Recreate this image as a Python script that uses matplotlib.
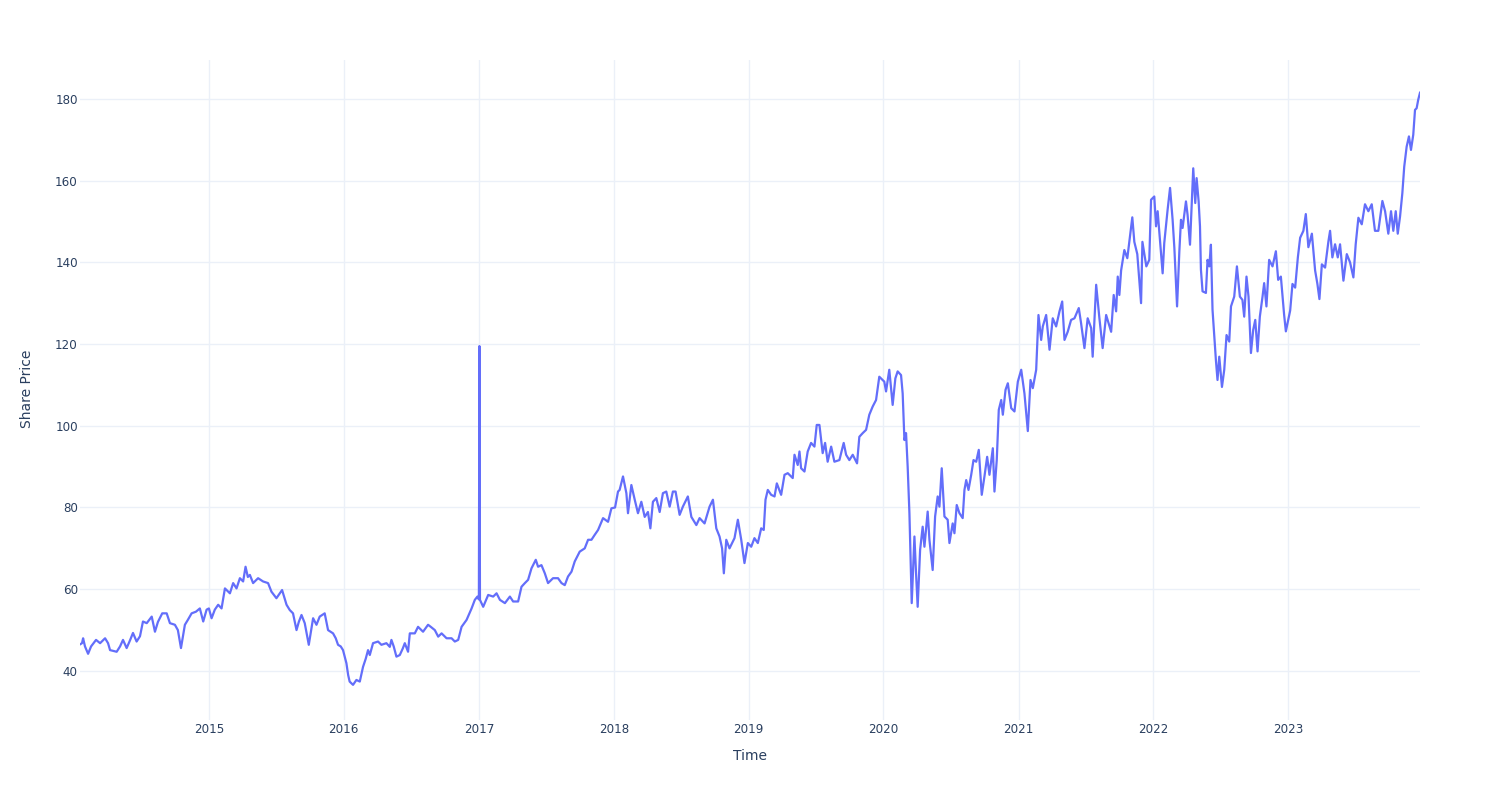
import datetime as dt
import matplotlib
matplotlib.use("Agg")
import matplotlib.pyplot as plt
import matplotlib.dates as mdates

# time as decimal years, price
years = [
    2014.044, 2014.059, 2014.067, 2014.081, 2014.104, 2014.126, 2014.163, 2014.193, 2014.230, 2014.252,
    2014.267, 2014.316, 2014.341, 2014.363, 2014.390, 2014.415, 2014.437, 2014.464, 2014.489, 2014.511,
    2014.539, 2014.576, 2014.600, 2014.622, 2014.654, 2014.687, 2014.711, 2014.748, 2014.770, 2014.793,
    2014.822, 2014.844, 2014.872, 2014.904, 2014.933, 2014.958, 2014.983, 2015.000,
    2015.020, 2015.044, 2015.069, 2015.094, 2015.119, 2015.156, 2015.180, 2015.205, 2015.230, 2015.254,
    2015.272, 2015.289, 2015.304, 2015.328, 2015.365, 2015.402, 2015.439, 2015.464, 2015.501, 2015.526,
    2015.543, 2015.576, 2015.600, 2015.624, 2015.650, 2015.667, 2015.687, 2015.711, 2015.741, 2015.773,
    2015.798, 2015.822, 2015.859, 2015.884, 2015.921, 2015.941, 2015.958, 2015.978, 2015.995,
    2016.020, 2016.033, 2016.044, 2016.069, 2016.094, 2016.119, 2016.143, 2016.163, 2016.180, 2016.193,
    2016.217, 2016.254, 2016.279, 2016.316, 2016.341, 2016.353, 2016.370, 2016.390, 2016.415, 2016.437,
    2016.452, 2016.476, 2016.489, 2016.526, 2016.550, 2016.587, 2016.624, 2016.644, 2016.674, 2016.699,
    2016.724, 2016.761, 2016.798, 2016.822, 2016.847, 2016.872, 2016.909, 2016.946, 2016.970, 2016.989,
    2017.000, 2017.004, 2017.008,
    2017.032, 2017.069, 2017.106, 2017.131, 2017.156, 2017.193, 2017.230, 2017.254, 2017.291, 2017.316,
    2017.341, 2017.365, 2017.390, 2017.422, 2017.439, 2017.464, 2017.489, 2017.513, 2017.550, 2017.587,
    2017.613, 2017.637, 2017.661, 2017.687, 2017.711, 2017.748, 2017.785, 2017.810, 2017.835, 2017.859,
    2017.884, 2017.921, 2017.958, 2017.983,
    2018.010, 2018.032, 2018.044, 2018.069, 2018.094, 2018.106, 2018.131, 2018.156, 2018.180, 2018.205,
    2018.230, 2018.254, 2018.272, 2018.291, 2018.316, 2018.341, 2018.365, 2018.390, 2018.415, 2018.439,
    2018.459, 2018.489, 2018.513, 2018.550, 2018.576, 2018.613, 2018.637, 2018.674, 2018.711, 2018.736,
    2018.761, 2018.785, 2018.804, 2018.817, 2018.835, 2018.859, 2018.896, 2018.921, 2018.946, 2018.970,
    2018.995,
    2019.020, 2019.044, 2019.069, 2019.094, 2019.113, 2019.126, 2019.143, 2019.168, 2019.193, 2019.210,
    2019.242, 2019.267, 2019.291, 2019.328, 2019.341, 2019.365, 2019.378, 2019.390, 2019.415, 2019.439,
    2019.464, 2019.489, 2019.506, 2019.526, 2019.550, 2019.568, 2019.587, 2019.613, 2019.637, 2019.674,
    2019.706, 2019.724, 2019.748, 2019.773, 2019.805, 2019.822, 2019.847, 2019.872, 2019.896, 2019.921,
    2019.946, 2019.970,
    2020.007, 2020.020, 2020.044, 2020.069, 2020.089, 2020.106, 2020.131, 2020.143, 2020.156, 2020.168,
    2020.180, 2020.193, 2020.210, 2020.230, 2020.242, 2020.254, 2020.272, 2020.291, 2020.304, 2020.328,
    2020.341, 2020.365, 2020.383, 2020.402, 2020.415, 2020.432, 2020.452, 2020.476, 2020.489, 2020.513,
    2020.526, 2020.543, 2020.563, 2020.587, 2020.600, 2020.613, 2020.630, 2020.650, 2020.667, 2020.687,
    2020.706, 2020.728, 2020.748, 2020.768, 2020.785, 2020.810, 2020.822, 2020.839, 2020.854, 2020.872,
    2020.884, 2020.904, 2020.921, 2020.946, 2020.970, 2020.995,
    2021.020, 2021.044, 2021.069, 2021.089, 2021.106, 2021.131, 2021.148, 2021.168, 2021.180, 2021.205,
    2021.230, 2021.254, 2021.279, 2021.304, 2021.324, 2021.341, 2021.365, 2021.390, 2021.415, 2021.447,
    2021.464, 2021.489, 2021.513, 2021.539, 2021.550, 2021.576, 2021.600, 2021.624, 2021.650, 2021.687,
    2021.706, 2021.724, 2021.736, 2021.748, 2021.761, 2021.785, 2021.807, 2021.822, 2021.844, 2021.859,
    2021.881, 2021.909, 2021.919, 2021.948, 2021.970, 2021.983,
    2022.007, 2022.020, 2022.032, 2022.057, 2022.069, 2022.081, 2022.106, 2022.124, 2022.143, 2022.156,
    2022.176, 2022.193, 2022.205, 2022.217, 2022.242, 2022.254, 2022.272, 2022.287, 2022.296, 2022.311,
    2022.321, 2022.336, 2022.346, 2022.353, 2022.365, 2022.390, 2022.402, 2022.415, 2022.427, 2022.439,
    2022.464, 2022.476, 2022.489, 2022.509, 2022.526, 2022.543, 2022.563, 2022.576, 2022.600, 2022.620,
    2022.642, 2022.661, 2022.674, 2022.691, 2022.706, 2022.724, 2022.741, 2022.756, 2022.773, 2022.790,
    2022.810, 2022.822, 2022.839, 2022.859, 2022.884, 2022.909, 2022.926, 2022.946, 2022.970, 2022.983,
    2023.015, 2023.032, 2023.052, 2023.072, 2023.089, 2023.113, 2023.131, 2023.150, 2023.176, 2023.200,
    2023.217, 2023.232, 2023.250, 2023.274, 2023.299, 2023.311, 2023.328, 2023.348, 2023.368, 2023.385,
    2023.410, 2023.435, 2023.459, 2023.484, 2023.501, 2023.521, 2023.546, 2023.570, 2023.595, 2023.620,
    2023.644, 2023.669, 2023.699, 2023.719, 2023.743, 2023.763, 2023.780, 2023.798, 2023.813, 2023.830,
    2023.847, 2023.861, 2023.879, 2023.896, 2023.911, 2023.928, 2023.941, 2023.953, 2023.965, 2023.978,
]

prices = [
    46.5, 46.8, 48.0, 46.0, 44.2, 46.0, 47.6, 46.8, 48.0, 46.8,
    45.1, 44.7, 46.0, 47.6, 45.6, 47.5, 49.3, 47.2, 48.5, 52.1,
    51.7, 53.3, 49.6, 52.0, 54.1, 54.1, 51.7, 51.3, 50.0, 45.6,
    51.3, 52.5, 54.1, 54.5, 55.3, 52.1, 55.0, 55.3,
    52.9, 55.0, 56.2, 55.3, 60.2, 59.0, 61.5, 60.2, 62.7, 61.9,
    65.5, 63.0, 63.5, 61.5, 62.7, 61.9, 61.5, 59.4, 57.8, 59.0,
    59.8, 56.2, 54.9, 54.1, 50.0, 52.0, 53.7, 51.7, 46.4, 52.9,
    51.3, 53.3, 54.1, 50.0, 49.2, 48.0, 46.4, 46.0, 45.1,
    41.9, 39.0, 37.4, 36.6, 37.8, 37.4, 41.0, 43.0, 45.1, 43.9,
    46.8, 47.2, 46.4, 46.8, 45.9, 47.6, 46.0, 43.5, 43.9, 45.5,
    46.8, 44.7, 49.2, 49.2, 50.8, 49.6, 51.3, 50.8, 50.0, 48.4,
    49.2, 48.0, 48.0, 47.2, 47.6, 50.8, 52.5, 55.3, 57.4, 58.2,
    57.5, 119.5, 57.4,
    55.7, 58.6, 58.2, 59.0, 57.4, 56.6, 58.2, 57.0, 57.0, 60.6,
    61.5, 62.3, 65.1, 67.2, 65.5, 65.9, 63.9, 61.5, 62.7, 62.7,
    61.5, 61.0, 63.1, 64.3, 66.8, 69.2, 70.0, 72.1, 72.1, 73.3,
    74.5, 77.4, 76.5, 79.8,
    80.0, 83.9, 84.3, 87.6, 83.5, 78.6, 85.5, 81.9, 78.6, 81.4,
    77.7, 78.9, 74.9, 81.4, 82.3, 78.9, 83.5, 83.9, 80.2, 83.9,
    83.9, 78.2, 80.2, 82.7, 77.7, 75.7, 77.4, 76.1, 80.2, 81.9,
    74.9, 72.9, 70.0, 63.9, 72.1, 70.0, 72.5, 77.0, 72.1, 66.4,
    71.3,
    70.4, 72.5, 71.3, 74.9, 74.5, 81.9, 84.3, 83.1, 82.7, 85.9,
    83.1, 88.0, 88.4, 87.2, 92.9, 90.4, 93.7, 89.6, 88.8, 93.7,
    95.8, 94.9, 100.2, 100.2, 93.3, 95.8, 91.2, 94.9, 91.2, 91.6,
    95.8, 92.9, 91.6, 92.9, 90.8, 97.3, 98.2, 99.0, 102.7, 104.7,
    106.3, 112.0,
    110.8, 108.4, 113.7, 105.1, 111.6, 113.3, 112.4, 107.9, 96.5, 98.2,
    90.0, 78.6, 56.6, 72.9, 63.9, 55.7, 69.6, 75.3, 70.4, 79.0,
    72.1, 64.7, 77.8, 82.7, 80.2, 89.6, 77.8, 77.0, 71.3, 76.1,
    73.7, 80.6, 78.6, 77.4, 84.3, 86.7, 84.3, 88.0, 91.6, 91.2,
    94.1, 83.1, 87.6, 92.4, 88.0, 94.5, 83.9, 91.6, 103.9, 106.3,
    102.7, 108.8, 110.4, 104.3, 103.5, 110.8,
    113.7, 107.9, 98.7, 111.2, 109.2, 113.7, 127.1, 121.0, 124.3, 127.1,
    118.6, 126.3, 124.3, 128.0, 130.4, 121.0, 123.0, 125.9, 126.3, 128.8,
    125.1, 119.0, 126.3, 123.9, 116.9, 134.5, 126.3, 119.0, 127.1, 123.0,
    132.0, 128.0, 136.5, 132.0, 138.0, 143.0, 141.0, 145.0, 151.0, 145.0,
    142.0, 130.0, 145.0, 139.0, 140.6, 155.3,
    156.1, 148.8, 152.5, 142.3, 137.3, 144.7, 152.9, 158.2, 150.4, 143.5,
    129.2, 142.7, 150.4, 148.4, 154.9, 151.6, 144.3, 156.1, 163.0, 154.5,
    160.6, 154.9, 148.8, 138.2, 132.9, 132.5, 140.6, 139.0, 144.3, 128.4,
    116.1, 111.2, 116.9, 109.5, 113.7, 122.2, 120.6, 129.2, 131.6, 139.0,
    131.6, 130.8, 126.7, 136.5, 131.6, 117.8, 123.5, 125.9, 118.2, 126.7,
    131.6, 134.9, 129.2, 140.6, 139.0, 142.7, 135.7, 136.5, 127.2, 123.1,
    128.2, 134.7, 133.8, 141.2, 146.0, 147.7, 151.8, 143.7, 147.0, 138.0,
    134.7, 131.0, 139.5, 138.7, 145.2, 147.7, 141.2, 144.4, 141.2, 144.4,
    135.5, 142.0, 140.0, 136.3, 144.4, 150.9, 149.3, 154.2, 152.5, 154.2,
    147.7, 147.7, 155.0, 152.5, 147.0, 152.5, 147.7, 152.5, 147.0, 151.2,
    156.9, 163.4, 168.3, 170.8, 167.5, 171.2, 177.3, 177.7, 179.8, 181.5,
]

y_ticks = [40, 60, 80, 100, 120, 140, 160, 180]


def to_date(t):
    year = int(t)
    start = dt.datetime(year, 1, 1)
    days = (dt.datetime(year + 1, 1, 1) - start).days
    return start + dt.timedelta(days=(t - year) * days)


dates = [to_date(t) for t in years]

plt.rcParams["font.family"] = ["DejaVu Sans"]
text_color = "#2a3f5f"
grid_color = "#ebf0f8"

fig = plt.figure(figsize=(15, 8), dpi=100)
ax = fig.add_axes([80 / 1500, 80 / 800, 1340 / 1500, 660 / 800])

ax.plot(dates, prices, color="#636efa", linewidth=1.6, zorder=3)

ax.set_xlim(dates[0], dates[-1])
ax.set_ylim(28.0, 189.5)
ax.set_yticks(y_ticks)
ax.xaxis.set_major_locator(mdates.YearLocator())
ax.xaxis.set_major_formatter(mdates.DateFormatter("%Y"))

ax.grid(True, color=grid_color, linewidth=1.0, zorder=0)
for s in ax.spines.values():
    s.set_visible(False)
ax.tick_params(axis="both", length=0, labelsize=8.6, labelcolor=text_color)
ax.tick_params(axis="x", pad=2)
ax.tick_params(axis="y", pad=1.5)

fig.text(750 / 1500, 1 - 756 / 800, "Time", ha="center", va="center",
         fontsize=10, color=text_color)
fig.text(27 / 1500, 1 - 389 / 800, "Share Price", ha="center", va="center",
         rotation=90, fontsize=10, color=text_color)

fig.savefig("out.png", dpi=100, facecolor="white")
